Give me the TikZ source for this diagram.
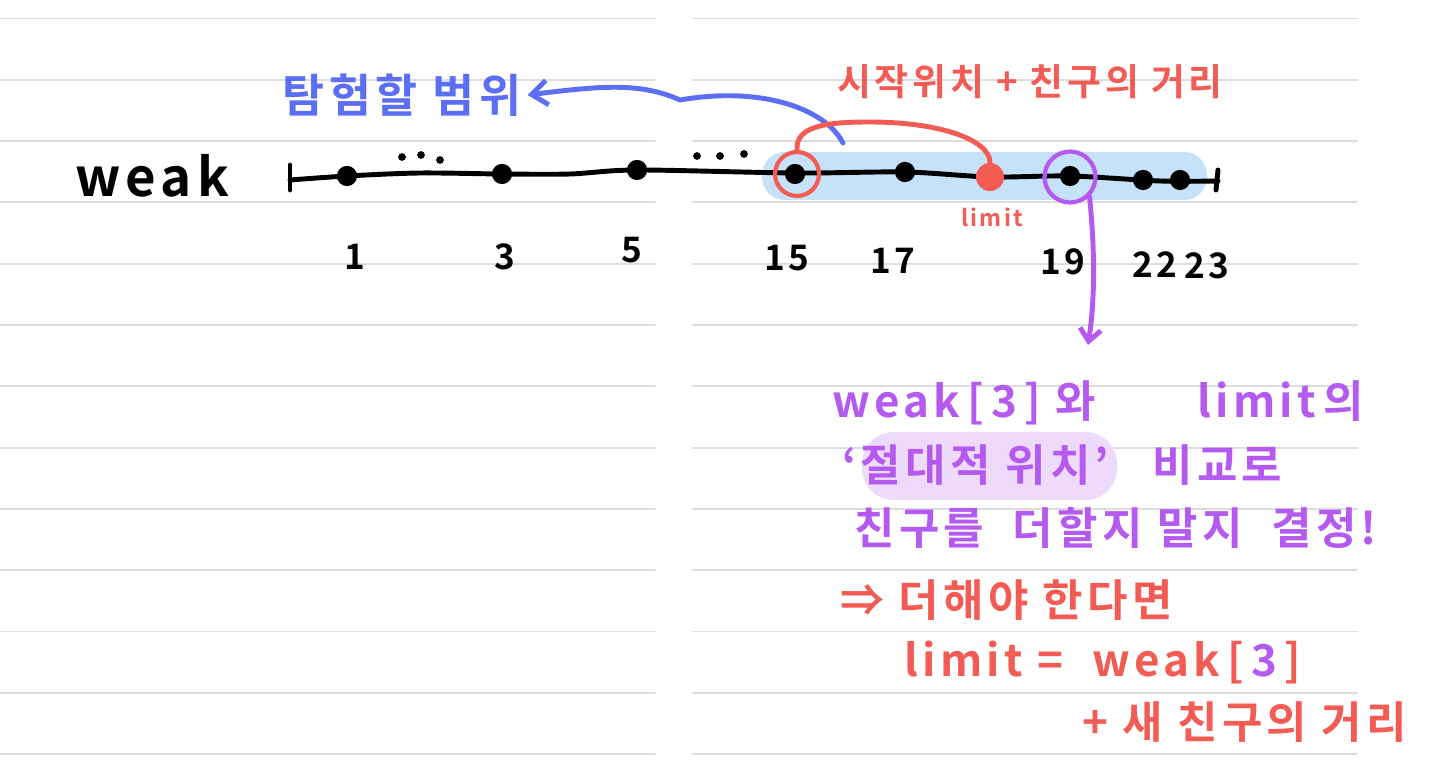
\documentclass[tikz,border=0pt]{standalone}
\usepackage{fontspec}
\setmainfont{Noto Sans CJK KR}[LetterSpace=10, BoldFont={Noto Sans CJK KR Bold}]
\usetikzlibrary{arrows.meta}
\definecolor{NoteBlue}{HTML}{5B6EF5}
\definecolor{NoteRed}{HTML}{F25C54}
\definecolor{NotePurple}{HTML}{B45AF0}
\definecolor{RangeBlue}{HTML}{C6E2FA}
\definecolor{MarkPurple}{HTML}{EEDAFB}
\definecolor{RuleGray}{HTML}{DDDDDD}

\begin{document}
\begin{tikzpicture}[x=0.02cm, y=-0.02cm, line cap=round, line join=round,
    pen/.style={line width=2.8pt},
    dot/.style={circle, fill=black, inner sep=0pt, minimum size=11.5pt},
    num/.style={font=\fontsize{20}{22}\selectfont\bfseries},
    note/.style={anchor=west, font=\fontsize{25}{27}\selectfont\bfseries}]
    % Page background and ruled lines
    \fill[white] (0,0) rectangle (1440,783);
    \useasboundingbox (0,0) rectangle (1440,783);
    \foreach \i in {0,...,12} {
        \draw[RuleGray, line width=1.1pt] (0,18.5+61.3*\i) -- (655,18.5+61.3*\i);
        \draw[RuleGray, line width=1.1pt] (693,18.5+61.3*\i) -- (1357,18.5+61.3*\i);
    }

    % Range to explore
    \fill[RangeBlue, rounded corners=13pt] (762,152) rectangle (1207,200);

    % Array line
    \node[font=\fontsize{30}{32}\selectfont\bfseries] (weak) at (152,176) {weak};
    \draw[pen] (290,165) -- (290,190);
    \draw[pen] (1218,170) -- (1216,190);
    \draw[pen] plot[smooth] coordinates {(290,180) (347,176) (420,173) (502,174)
        (570,174) (637,170) (795,173) (905,172) (990,177) (1070,176) (1160,181) (1218,181)};

    % Points
    \node[dot] (d1) at (347,176) {};
    \node[dot] (d3) at (502,174) {};
    \node[dot] (d5) at (637,170) {};
    \node[dot] (d15) at (795,174) {};
    \node[dot] (d17) at (905,172) {};
    \node[dot] (d19) at (1070,176) {};
    \node[dot] (d22) at (1143,180) {};
    \node[dot] (d23) at (1180,180) {};
    \node[circle, fill=NoteRed, inner sep=0pt, minimum size=16pt] (lim) at (990,177) {};
    \foreach \x/\y in {402/157, 421/155, 440/160, 697/156, 720/156, 744/154}
        \fill (\x,\y) circle (2.2pt);

    % Indices
    \node[num] (n1) at (355,257) {1};
    \node[num] (n3) at (505,257) {3};
    \node[num] (n5) at (632,250) {5};
    \node[num] (n15) at (787,258) {15};
    \node[num] (n17) at (893,261) {17};
    \node[num] (n19) at (1063,262) {19};
    \node[num] (n22) at (1155,265) {22};
    \node[num] (n23) at (1207,266) {23};

    % Start and compared positions
    \node[draw=NoteRed, line width=2.4pt, circle, minimum size=25pt] (c15) at (797,174) {};
    \node[draw=NotePurple, line width=2.4pt, circle, minimum size=29pt] (c19) at (1070,177) {};
    \node[NoteRed, font=\fontsize{13}{14}\selectfont\bfseries] (limtxt) at (992,217) {limit};

    % Labels above the line
    \node[NoteBlue, font=\fontsize{26}{28}\selectfont\bfseries] (range) at (402,95) {탐험할 범위};
    \node[NoteRed, font=\fontsize{21}{23}\selectfont\bfseries] (sum) at (1030,82) {시작위치 + 친구의 거리};

    % Connectors
    \coordinate (bstart) at (843,143);
    \draw[NoteBlue, pen, -{Straight Barb[length=9pt, width=14pt]}] (bstart)
        .. controls (825,108) and (760,86) .. (680,100)
        .. controls (640,82) and (600,86) .. (range.east);
    \draw[NoteRed, pen] (c15.north) .. controls (795,125) and (830,122) .. (870,122)
        .. controls (940,122) and (990,140) .. (lim.north);
    \coordinate (pend) at (1088,345);
    \draw[NotePurple, pen, -{Straight Barb[length=7pt, width=12pt]}] (c19.south east)
        .. controls (1095,250) and (1095,300) .. (pend);

    % Explanation
    \fill[MarkPurple, rounded corners=18pt] (862,432) rectangle (1117,500);
    \node[note, NotePurple] (p1) at (826,403) {weak\,[\,3\,]\ 와\hspace{2.3em}limit\,의};
    \node[note, NotePurple] (p2) at (836,465) {‘절대적 위치’\ \ \ 비교로};
    \node[note, NotePurple] (p3) at (848,528) {친구를\ \ 더할지\ 말지\ \ 결정!};
    \node[note, NoteRed] (r1) at (834,600) {⇒ 더해야 한다면};
    \node[note, NoteRed] (r2) at (898,662) {limit\ =\ \ weak\,[\,\textcolor{NotePurple}{3}\,]};
    \node[note, NoteRed] (r3) at (1076,722) {+ 새 친구의 거리};
\end{tikzpicture}
\end{document}
